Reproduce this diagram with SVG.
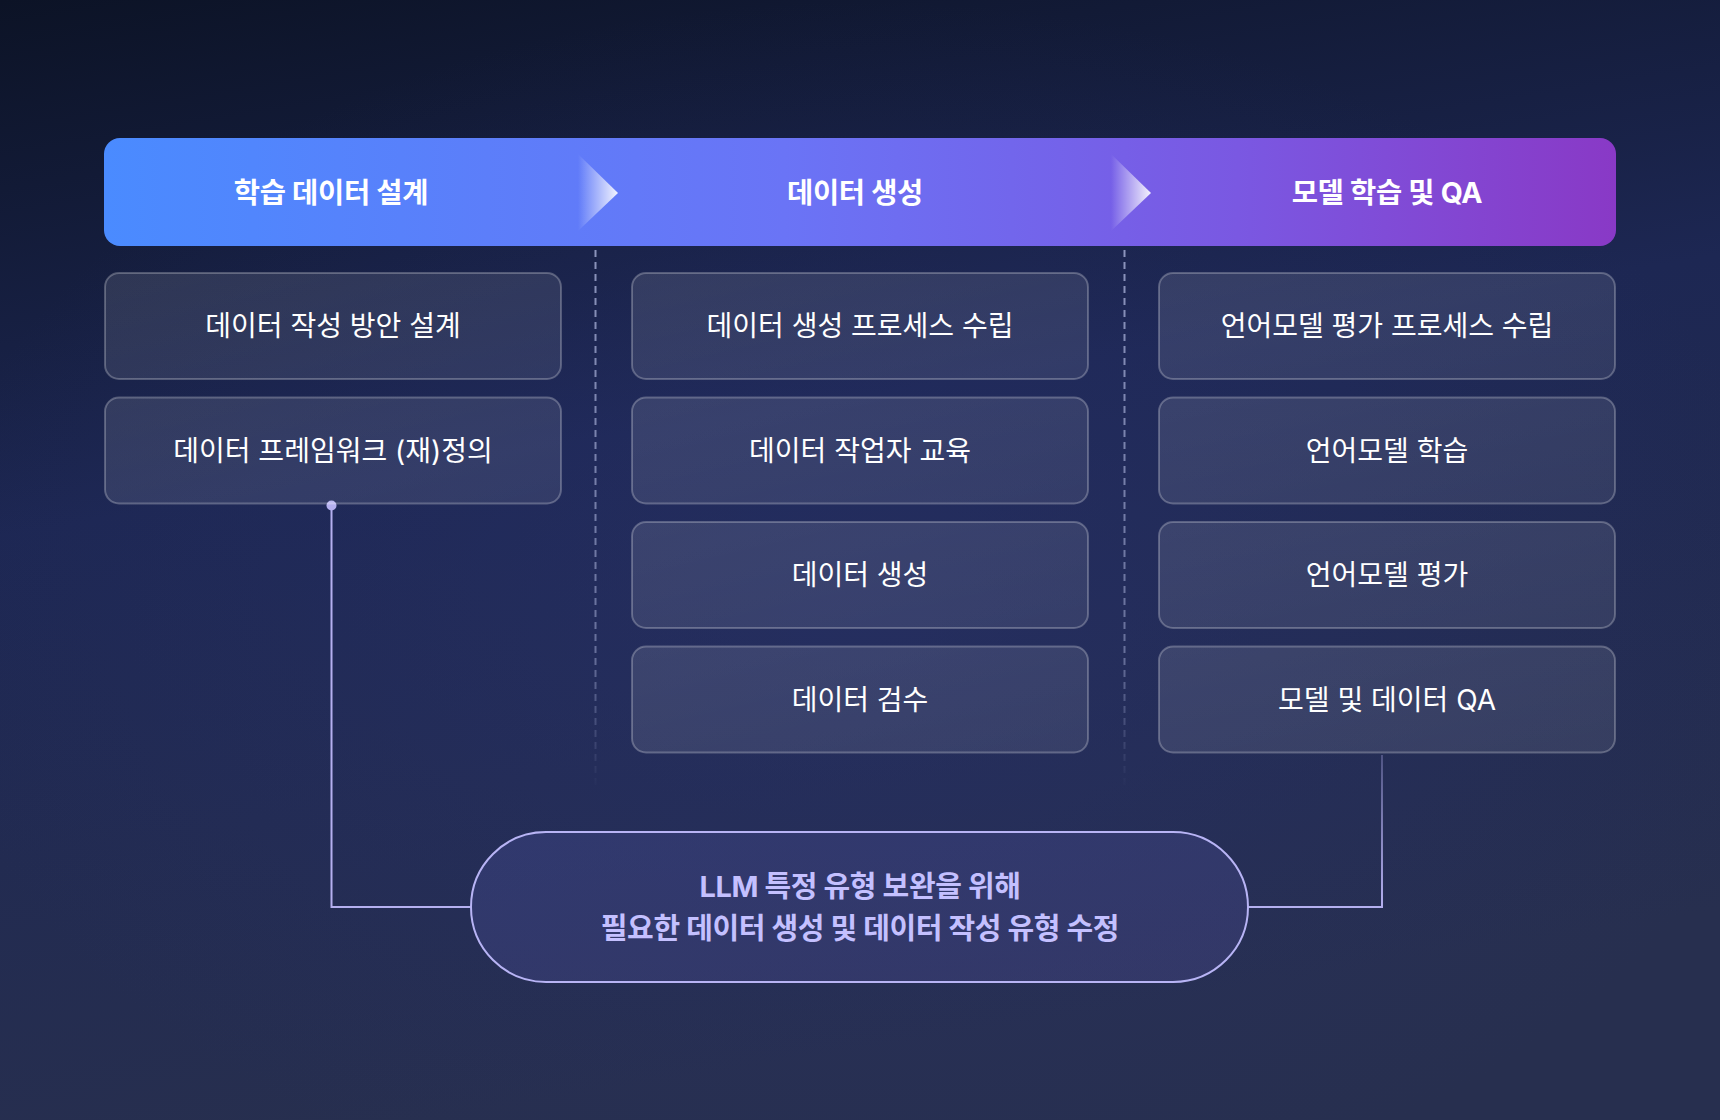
<svg xmlns="http://www.w3.org/2000/svg" width="1720" height="1120" viewBox="0 0 1720 1120">
<defs>
<linearGradient id="bg" x1="0" y1="0" x2="0.25" y2="1">
<stop offset="0" stop-color="#0c1326"/>
<stop offset="0.45" stop-color="#1d2753"/>
<stop offset="1" stop-color="#272f4f"/>
</linearGradient>
<radialGradient id="bgv" cx="0.5" cy="0.55" r="0.55">
<stop offset="0" stop-color="#2a3370" stop-opacity="0.45"/>
<stop offset="1" stop-color="#2a3370" stop-opacity="0"/>
</radialGradient>
<linearGradient id="hdr" x1="0" y1="0" x2="1" y2="0">
<stop offset="0" stop-color="#4a8bff"/>
<stop offset="0.45" stop-color="#6a74f6"/>
<stop offset="0.75" stop-color="#7a58e2"/>
<stop offset="1" stop-color="#8939c6"/>
</linearGradient>
<linearGradient id="chev" x1="0" y1="0" x2="1" y2="0">
<stop offset="0" stop-color="#ffffff" stop-opacity="0"/>
<stop offset="1" stop-color="#ffffff" stop-opacity="0.92"/>
</linearGradient>
<linearGradient id="dash" x1="0" y1="250" x2="0" y2="790" gradientUnits="userSpaceOnUse">
<stop offset="0" stop-color="#a8b0d8" stop-opacity="0.8"/>
<stop offset="0.75" stop-color="#a8b0d8" stop-opacity="0.5"/>
<stop offset="1" stop-color="#a8b0d8" stop-opacity="0"/>
</linearGradient>
<linearGradient id="rconn" x1="0" y1="756" x2="0" y2="908" gradientUnits="userSpaceOnUse">
<stop offset="0" stop-color="#b5b0f0" stop-opacity="0.3"/>
<stop offset="1" stop-color="#b5b0f0" stop-opacity="1"/>
</linearGradient>
<linearGradient id="boxfill" x1="0" y1="0" x2="1" y2="1">
<stop offset="0" stop-color="#ffffff" stop-opacity="0.11"/>
<stop offset="1" stop-color="#ffffff" stop-opacity="0.08"/>
</linearGradient>
<linearGradient id="pillfill" x1="0" y1="0" x2="1" y2="1">
<stop offset="0" stop-color="#3a4280" stop-opacity="0.55"/>
<stop offset="1" stop-color="#3d3f78" stop-opacity="0.55"/>
</linearGradient>
<style>
.box{fill:url(#boxfill);stroke:#ffffff;stroke-opacity:0.25;stroke-width:2}
.bt{font-family:Inter,"Noto Sans CJK KR",sans-serif;font-size:28px;fill:#ffffff;text-anchor:middle}
.ht{font-family:Inter,"Noto Sans CJK KR",sans-serif;font-size:28.5px;font-weight:700;fill:#ffffff;text-anchor:middle;letter-spacing:-0.3px}
.pt{font-family:Inter,"Noto Sans CJK KR",sans-serif;font-size:29px;font-weight:700;fill:#c4c0ff;text-anchor:middle;letter-spacing:-0.4px}
.conn{fill:none;stroke:#b5b0f0;stroke-width:2}
.div{stroke:url(#dash);stroke-width:2;stroke-dasharray:7 5}
</style>
</defs>
<rect width="1720" height="1120" fill="url(#bg)"/>
<rect width="1720" height="1120" fill="url(#bgv)"/>

<g id="header">
<rect x="104" y="138" width="1512" height="108" rx="16" fill="url(#hdr)"/>
<polygon points="578,154 618,193 578,231" fill="url(#chev)"/>
<polygon points="1111,154 1151,193 1111,231" fill="url(#chev)"/>
<text class="ht" x="331" y="203">학습 데이터 설계</text>
<text class="ht" x="855" y="203">데이터 생성</text>
<text class="ht" x="1387" y="203">모델 학습 및 QA</text>
</g>

<g id="dividers">
<line class="div" x1="595.5" y1="250" x2="595.5" y2="790"/>
<line class="div" x1="1124.5" y1="250" x2="1124.5" y2="790"/>
</g>

<g id="connectors">
<path class="conn" d="M331.5,505 V907 H471"/>
<circle cx="331.5" cy="505.5" r="5" fill="#b5b0f0"/>
<path d="M1382,755 V907 H1248" fill="none" stroke="url(#rconn)" stroke-width="2"/>
</g>

<g id="n1"><rect class="box" x="105" y="273" width="456" height="106" rx="14"/><text class="bt" x="333" y="336">데이터 작성 방안 설계</text></g>
<g id="n2"><rect class="box" x="105" y="397.5" width="456" height="106" rx="14"/><text class="bt" x="333" y="460.5">데이터 프레임워크 (재)정의</text></g>

<g id="n3"><rect class="box" x="632" y="273" width="456" height="106" rx="14"/><text class="bt" x="860" y="336">데이터 생성 프로세스 수립</text></g>
<g id="n4"><rect class="box" x="632" y="397.5" width="456" height="106" rx="14"/><text class="bt" x="860" y="460.5">데이터 작업자 교육</text></g>
<g id="n5"><rect class="box" x="632" y="522" width="456" height="106" rx="14"/><text class="bt" x="860" y="585">데이터 생성</text></g>
<g id="n6"><rect class="box" x="632" y="646.5" width="456" height="106" rx="14"/><text class="bt" x="860" y="709.5">데이터 검수</text></g>

<g id="n7"><rect class="box" x="1159" y="273" width="456" height="106" rx="14"/><text class="bt" x="1387" y="336">언어모델 평가 프로세스 수립</text></g>
<g id="n8"><rect class="box" x="1159" y="397.5" width="456" height="106" rx="14"/><text class="bt" x="1387" y="460.5">언어모델 학습</text></g>
<g id="n9"><rect class="box" x="1159" y="522" width="456" height="106" rx="14"/><text class="bt" x="1387" y="585">언어모델 평가</text></g>
<g id="n10"><rect class="box" x="1159" y="646.5" width="456" height="106" rx="14"/><text class="bt" x="1387" y="709.5">모델 및 데이터 QA</text></g>

<g id="note">
<rect x="471" y="832" width="777" height="150" rx="75" fill="url(#pillfill)" stroke="#b8b4f5" stroke-width="2"/>
<text class="pt" x="860" y="897">LLM 특정 유형 보완을 위해</text>
<text class="pt" x="860" y="939">필요한 데이터 생성 및 데이터 작성 유형 수정</text>
</g>
</svg>
